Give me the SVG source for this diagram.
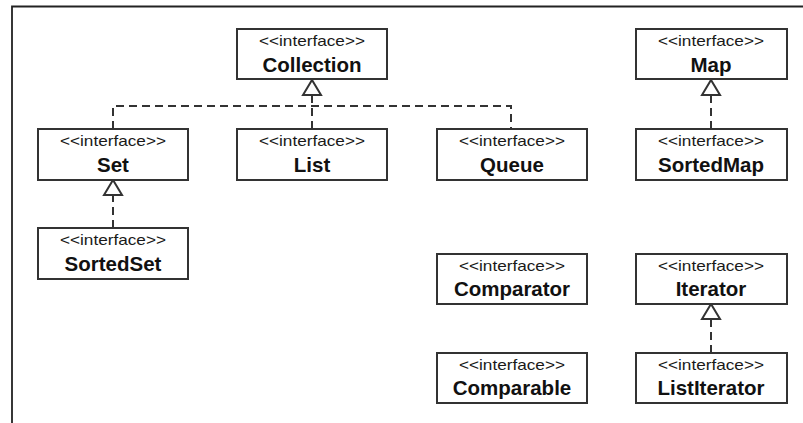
<svg xmlns="http://www.w3.org/2000/svg" width="803" height="423" viewBox="0 0 803 423">
<style>
.box{fill:#fff;stroke:#333;stroke-width:2}
.st{font-family:"Liberation Sans",Arial,sans-serif;font-size:14.5px;fill:#1a1a1a;text-anchor:middle}
.nm{font-family:"Liberation Sans",Arial,sans-serif;font-size:20.5px;font-weight:bold;fill:#111;text-anchor:middle}
.dash{fill:none;stroke:#333;stroke-width:2;stroke-dasharray:8 5}
.frame{fill:none;stroke:#222;stroke-width:1.8}
</style>
<defs>
<marker id="tri" markerUnits="userSpaceOnUse" markerWidth="20" markerHeight="22" refX="15" refY="9.5" orient="auto" overflow="visible">
<path d="M0,0.5 L15,9.5 L0,18.5 Z" fill="#fff" stroke="#333" stroke-width="2" stroke-linejoin="miter"/>
</marker>
</defs>
<rect width="803" height="423" fill="#fff"/>
<path class="frame" d="M12,423 V6.5 H803"/>
<g id="connectors">
<path class="dash" d="M113,129 V106 H511 V129"/>
<path class="dash" d="M312,129 V80" marker-end="url(#tri)"/>
<path class="dash" d="M113,228 V180" marker-end="url(#tri)"/>
<path class="dash" d="M711,129 V80" marker-end="url(#tri)"/>
<path class="dash" d="M711,353 V304" marker-end="url(#tri)"/>
</g>
<g id="Collection">
<rect class="box" x="237" y="29" width="150" height="50"/>
<text class="st" x="312" y="46" textLength="106" lengthAdjust="spacingAndGlyphs">&lt;&lt;interface&gt;&gt;</text>
<text class="nm" x="312" y="71.5">Collection</text>
</g>
<g id="Set">
<rect class="box" x="38" y="129" width="150" height="51"/>
<text class="st" x="113" y="146" textLength="106" lengthAdjust="spacingAndGlyphs">&lt;&lt;interface&gt;&gt;</text>
<text class="nm" x="113" y="171.5">Set</text>
</g>
<g id="List">
<rect class="box" x="237" y="129" width="150" height="51"/>
<text class="st" x="312" y="146" textLength="106" lengthAdjust="spacingAndGlyphs">&lt;&lt;interface&gt;&gt;</text>
<text class="nm" x="312" y="171.5">List</text>
</g>
<g id="Queue">
<rect class="box" x="437" y="129" width="150" height="51"/>
<text class="st" x="512" y="146" textLength="106" lengthAdjust="spacingAndGlyphs">&lt;&lt;interface&gt;&gt;</text>
<text class="nm" x="512" y="171.5">Queue</text>
</g>
<g id="Map">
<rect class="box" x="636" y="29" width="151" height="50"/>
<text class="st" x="711" y="46" textLength="106" lengthAdjust="spacingAndGlyphs">&lt;&lt;interface&gt;&gt;</text>
<text class="nm" x="711" y="71.5">Map</text>
</g>
<g id="SortedMap">
<rect class="box" x="636" y="129" width="151" height="51"/>
<text class="st" x="711" y="146" textLength="106" lengthAdjust="spacingAndGlyphs">&lt;&lt;interface&gt;&gt;</text>
<text class="nm" x="711" y="171.5">SortedMap</text>
</g>
<g id="SortedSet">
<rect class="box" x="38" y="228" width="150" height="51"/>
<text class="st" x="113" y="245" textLength="106" lengthAdjust="spacingAndGlyphs">&lt;&lt;interface&gt;&gt;</text>
<text class="nm" x="113" y="270.5">SortedSet</text>
</g>
<g id="Comparator">
<rect class="box" x="437" y="254" width="150" height="50"/>
<text class="st" x="512" y="271" textLength="106" lengthAdjust="spacingAndGlyphs">&lt;&lt;interface&gt;&gt;</text>
<text class="nm" x="512" y="295.5">Comparator</text>
</g>
<g id="Iterator">
<rect class="box" x="636" y="254" width="151" height="50"/>
<text class="st" x="711" y="271" textLength="106" lengthAdjust="spacingAndGlyphs">&lt;&lt;interface&gt;&gt;</text>
<text class="nm" x="711" y="295.5">Iterator</text>
</g>
<g id="Comparable">
<rect class="box" x="437" y="353" width="150" height="50"/>
<text class="st" x="512" y="370" textLength="106" lengthAdjust="spacingAndGlyphs">&lt;&lt;interface&gt;&gt;</text>
<text class="nm" x="512" y="394.5">Comparable</text>
</g>
<g id="ListIterator">
<rect class="box" x="636" y="353" width="151" height="50"/>
<text class="st" x="711" y="370" textLength="106" lengthAdjust="spacingAndGlyphs">&lt;&lt;interface&gt;&gt;</text>
<text class="nm" x="711" y="394.5">ListIterator</text>
</g>
</svg>
